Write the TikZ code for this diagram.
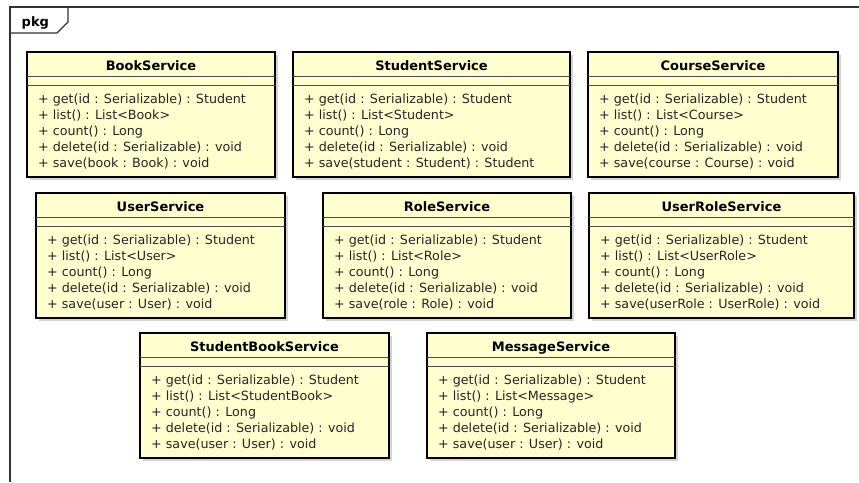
\documentclass[tikz,border=0pt]{standalone}
\usepackage{fontspec}
\setmainfont{DejaVu Sans}

\definecolor{classfill}{HTML}{FEFECE}
\definecolor{frameink}{HTML}{333333}
\definecolor{shadowink}{HTML}{D4D4D4}

\tikzset{
  classbox/.style={draw=black, line width=1.8pt, fill=classfill, anchor=north west,
                   minimum height=125pt, inner sep=0pt, outer sep=0pt},
  compline/.style={draw=black!70, line width=0.9pt},
  boxshadow/.style={fill=shadowink},
  frameline/.style={draw=frameink, line width=1.1pt},
  titletext/.style={font=\fontsize{13}{15}\selectfont\bfseries, inner sep=0pt, anchor=base},
  methodtext/.style={font=\fontsize{12.7}{16}\selectfont, inner sep=0pt, anchor=base west, text=black!85},
  pkgtext/.style={font=\fontsize{13}{15}\selectfont\bfseries, inner sep=0pt, anchor=base west},
}

% one service class: id, left, top, width, title, entity type of list(), signature of save()
\newcommand\svcclass[7]{%
  \fill[boxshadow] ({#2+2.5},{#3+2.5}) rectangle ++(#4,125);
  \node[classbox, minimum width=#4pt] (#1) at (#2,#3) {};
  \draw[compline] ([yshift=-24pt]#1.north west) -- ([yshift=-24pt]#1.north east);
  \draw[compline] ([yshift=-33pt]#1.north west) -- ([yshift=-33pt]#1.north east);
  \node[titletext] (#1-title) at ([yshift=-18pt]#1.north) {#5};
  \node[methodtext] (#1-get) at ([xshift=11pt,yshift=-51pt]#1.north west) {+ get(id : Serializable) : Student};
  \node[methodtext] (#1-list) at ([xshift=11pt,yshift=-67pt]#1.north west) {+ list() : List<#6>};
  \node[methodtext] (#1-count) at ([xshift=11pt,yshift=-83pt]#1.north west) {+ count() : Long};
  \node[methodtext] (#1-delete) at ([xshift=11pt,yshift=-99pt]#1.north west) {+ delete(id : Serializable) : void};
  \node[methodtext] (#1-save) at ([xshift=11pt,yshift=-115pt]#1.north west) {+ save(#7};
}

\begin{document}
\begin{tikzpicture}[x=1pt, y=-1pt]
  \useasboundingbox (0,0) rectangle (859,482);

  % package frame with its name tab
  \coordinate (frameTR) at (859,7);
  \coordinate (frameTL) at (10,7);
  \coordinate (frameBL) at (10,482);
  \draw[frameline] (frameTR) -- (frameTL) -- (frameBL);
  \coordinate (tabB) at (10,33);
  \coordinate (tabC) at (57,33);
  \coordinate (tabD) at (68,22);
  \coordinate (tabE) at (68,7);
  \draw[frameline] (tabB) -- (tabC) -- (tabD) -- (tabE);
  \node[pkgtext] (pkgname) at (21.5,26.5) {pkg};

  % first row
  \svcclass{book}{27}{52}{248}{BookService}{Book}{book : Book) : void}
  \svcclass{student}{293}{52}{277}{StudentService}{Student}{student : Student) : Student}
  \svcclass{course}{588}{52}{250}{CourseService}{Course}{course : Course) : void}

  % second row
  \svcclass{user}{36}{193}{249}{UserService}{User}{user : User) : void}
  \svcclass{role}{323}{193}{248}{RoleService}{Role}{role : Role) : void}
  \svcclass{userrole}{589}{193}{265}{UserRoleService}{UserRole}{userRole : UserRole) : void}

  % third row
  \svcclass{studentbook}{140}{333}{249}{StudentBookService}{StudentBook}{user : User) : void}
  \svcclass{message}{427}{333}{248}{MessageService}{Message}{user : User) : void}
\end{tikzpicture}
\end{document}
